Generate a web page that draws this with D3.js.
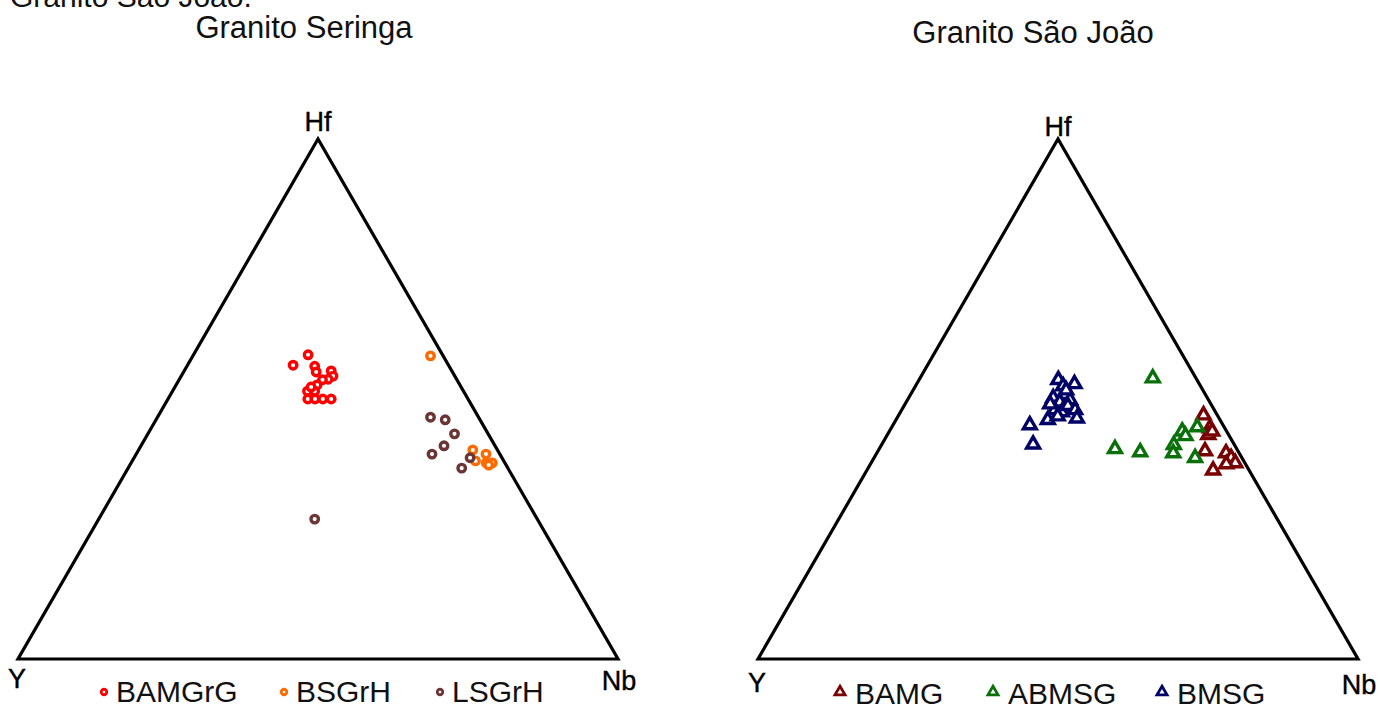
<!DOCTYPE html>
<html>
<head>
<meta charset="utf-8">
<script src="https://cdn.jsdelivr.net/npm/d3@7"></script>
<style>
  html, body { margin: 0; padding: 0; background: #fff; }
  svg { display: block; font-family: "Liberation Sans", Arial, sans-serif; }
</style>
</head>
<body>
<svg id="chart" width="1381" height="704"></svg>
<script>
// Compositions are [Y, Nb, Hf] in percent (sum = 100).
const verticesLabels = ["Y", "Nb", "Hf"];

// Granito Seringa
const seringaGroups = ["BAMGrG", "BSGrH", "LSGrH"];
const seringaColors = ["#ff0000", "#ff6a00", "#6b3535"];
const bamgrg = [
  [25.9, 17.6, 56.5], [22.4, 19.1, 58.5], [22.4, 21.3, 56.3], [22.7, 22.1, 55.2],
  [20.1, 24.5, 55.4], [20.3, 25.3, 54.4], [21.4, 24.8, 53.8], [22.4, 23.9, 53.7],
  [23.8, 23.5, 52.7], [26.0, 22.5, 51.5], [24.8, 23.7, 51.5], [26.7, 23.3, 50.0],
  [25.5, 24.5, 50.0], [24.2, 25.8, 50.0], [22.8, 27.2, 50.0], [25.0, 22.7, 52.3]
];
const bsgrh = [
  [2.1, 39.6, 58.3], [4.1, 55.7, 40.2], [2.3, 58.3, 39.4], [4.7, 57.2, 38.1],
  [3.1, 59.2, 37.7], [2.1, 60.2, 37.7], [2.9, 59.8, 37.3]
];
const lsgrh = [
  [8.0, 45.5, 46.5], [5.8, 48.2, 46.0], [5.6, 51.1, 43.3], [8.5, 50.5, 41.0],
  [11.3, 49.3, 39.4], [5.3, 56.0, 38.7], [7.7, 55.6, 36.7], [37.1, 36.0, 26.9]
];

// Granito São João
const saoJoaoGroups = ["BAMG", "ABMSG", "BMSG"];
const saoJoaoColors = ["#780000", "#0a700a", "#000066"];
const bamg = [
  [2.3, 50.8, 46.9], [2.5, 53.1, 44.4], [3.4, 53.5, 43.1], [5.5, 54.5, 40.0],
  [2.2, 58.2, 39.6], [1.8, 59.5, 38.7], [1.6, 60.7, 37.7], [3.2, 59.3, 37.5],
  [6.0, 57.7, 36.3], [2.4, 53.8, 43.8]
];
const abmsg = [
  [7.2, 38.8, 54.0], [20.3, 39.3, 40.4], [16.4, 43.8, 39.8], [7.4, 48.8, 43.8],
  [7.3, 49.8, 42.9], [4.5, 50.9, 44.6], [10.1, 48.7, 41.2], [11.0, 49.4, 39.6],
  [7.8, 53.5, 38.7]
];
const bmsg = [
  [23.1, 23.2, 53.7], [20.8, 26.3, 52.9], [22.9, 24.6, 52.5], [25.7, 24.1, 50.2],
  [23.4, 25.8, 50.8], [25.0, 25.6, 49.4], [23.1, 27.1, 49.8], [26.6, 25.5, 47.9],
  [25.6, 26.9, 47.5], [24.0, 27.3, 48.7], [23.2, 28.9, 47.9], [28.7, 25.3, 46.0],
  [32.2, 22.8, 45.0], [33.5, 25.2, 41.3], [23.7, 30.0, 46.3], [26.7, 26.6, 46.7],
  [26.8, 24.2, 49.0], [22.8, 25.5, 51.7]
];

const svg = d3.select("#chart");

// Caption line running off the top edge
svg.append("text")
  .attr("x", 10).attr("y", 7)
  .attr("font-size", 30).attr("fill", "#111")
  .text("Granito São João.");

function drawTernary(opts) {
  const g = svg.append("g");
  const x = d3.scaleLinear().domain([0, 100]).range([opts.x0, opts.x0 + 600]);
  const y = d3.scaleLinear().domain([0, 100]).range([659, 139]);
  const px = d => x(d[1] + d[2] / 2);
  const py = d => y(d[2]);

  // Outline through the three pure end-members
  const corners = [[100, 0, 0], [0, 100, 0], [0, 0, 100]];
  g.append("path")
    .attr("d", d3.line().x(px).y(py)(corners) + "Z")
    .attr("fill", "none").attr("stroke", "#000")
    .attr("stroke-width", 3.2).attr("stroke-linejoin", "miter");

  // Title
  g.append("text")
    .attr("x", opts.titleX).attr("y", opts.titleY)
    .attr("text-anchor", "middle").attr("font-size", 31).attr("fill", "#111")
    .text(opts.title);

  // Vertex labels
  const lab = [[-1, 0], [1, 0], [0, 0]];
  corners.forEach((c, i) => {
    g.append("text")
      .attr("x", px(c) + lab[i][0]).attr("y", opts.labelY[i])
      .attr("text-anchor", "middle").attr("font-size", 27).attr("fill", "#000")
      .attr("stroke", "#000").attr("stroke-width", 0.4)
      .text(verticesLabels[i]);
  });

  const shape = opts.triangle
    ? d3.symbol().type(d3.symbolTriangle).size(72)
    : d3.symbol().type(d3.symbolCircle).size(44);

  opts.series.forEach((data, i) => {
    g.append("g").selectAll("path").data(data).join("path")
      .attr("d", shape)
      .attr("transform", d => `translate(${px(d)},${py(d)})`)
      .attr("fill", "#fff")
      .attr("stroke", opts.colors[i])
      .attr("stroke-width", 3.4);
  });

  // Legend
  const lg = g.append("g");
  opts.groups.forEach((name, i) => {
    const item = lg.append("g").attr("transform", `translate(${opts.legendX[i]},${opts.legendY})`);
    item.append("path")
      .attr("d", opts.triangle
        ? d3.symbol().type(d3.symbolTriangle).size(44)()
        : d3.symbol().type(d3.symbolCircle).size(24)())
      .attr("fill", "#fff").attr("stroke", opts.colors[i]).attr("stroke-width", 2.8);
    item.append("text").attr("x", opts.textDx).attr("y", opts.textDy)
      .attr("font-size", 30).attr("fill", "#111").text(name);
  });
}

drawTernary({
  x0: 18, title: "Granito Seringa", titleX: 304, titleY: 38,
  labelY: [688, 690, 131],
  series: [bamgrg, bsgrh, lsgrh], groups: seringaGroups, colors: seringaColors,
  legendX: [104, 284, 440], legendY: 692, textDx: 12, textDy: 10, triangle: false
});

drawTernary({
  x0: 758, title: "Granito São João", titleX: 1033, titleY: 43,
  labelY: [692, 694, 136],
  series: [bamg, abmsg, bmsg], groups: saoJoaoGroups, colors: saoJoaoColors,
  legendX: [840, 993, 1162], legendY: 692, textDx: 15, textDy: 12, triangle: true
});
</script>
</body>
</html>
